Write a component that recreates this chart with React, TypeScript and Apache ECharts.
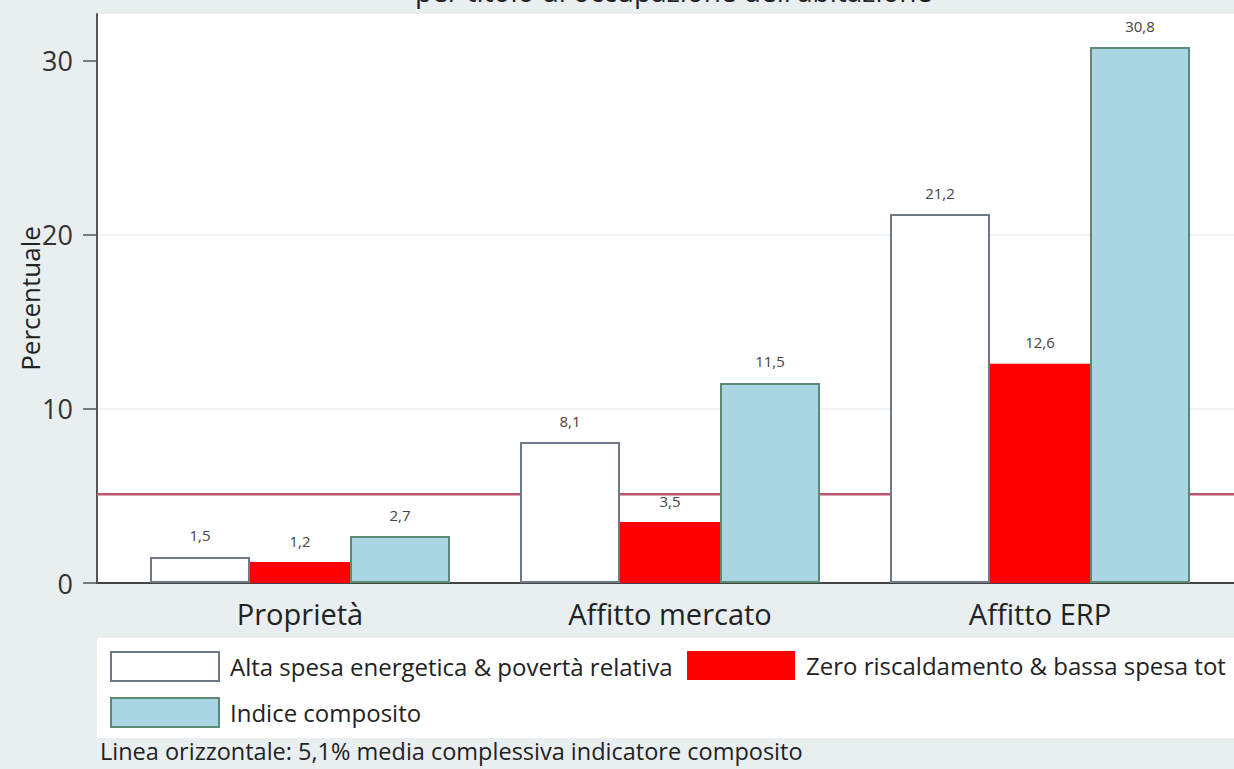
import React, { useEffect, useRef } from "react";
import * as echarts from "echarts";

const categories = ["Proprietà", "Affitto mercato", "Affitto ERP"];
const seriesNames = [
  "Alta spesa energetica & povertà relativa",
  "Zero riscaldamento & bassa spesa tot",
  "Indice composito",
];
const altaSpesa = [1.5, 8.1, 21.2];
const zeroRisc = [1.2, 3.5, 12.6];
const indiceComp = [2.7, 11.5, 30.8];
const mediaComposito = 5.1;
const yTicks = [0, 10, 20, 30];
const yMax = 32.7;

const FONT = "Open Sans";

export default function App() {
  const ref = useRef<HTMLDivElement>(null);
  useEffect(() => {
    if (!ref.current) return;
    const chart = echarts.init(ref.current, null, { renderer: "svg" });
    const fmt = (v: number) => v.toFixed(1).replace(".", ",");
    const label = {
      show: true,
      position: "top",
      distance: 14,
      fontFamily: FONT,
      fontSize: 15,
      color: "#444",
      formatter: (p: any) => fmt(p.value),
    };
    const styles = [
      { color: "#ffffff", borderColor: "#6e7a88", borderWidth: 2 },
      { color: "#ff0000", borderColor: "#ff0000", borderWidth: 0 },
      { color: "#aad6e4", borderColor: "#5c8a72", borderWidth: 2 },
    ];
    const datas = [altaSpesa, zeroRisc, indiceComp];
    const legendCommon = {
      icon: "rect",
      itemWidth: 108,
      itemHeight: 29,
      textStyle: {
        fontFamily: FONT,
        fontSize: 24,
        color: "#222",
        padding: [0, 0, 0, 6],
      },
      selectedMode: false,
      padding: 0,
    };
    chart.setOption({
      animation: false,
      backgroundColor: "#e9eef1",
      textStyle: { fontFamily: FONT },
      grid: [
        { left: 115, right: 9, top: 14, bottom: 186, containLabel: false },
        {
          left: 97,
          right: 0,
          top: 14,
          bottom: 186,
          show: true,
          backgroundColor: "#ffffff",
          borderWidth: 0,
        },
      ],
      xAxis: [
        {
          type: "category",
          gridIndex: 0,
          data: categories,
          axisLine: { show: false },
          axisTick: { show: false },
          axisLabel: {
            fontFamily: FONT,
            fontSize: 29,
            color: "#222",
            margin: 16,
          },
        },
        {
          type: "value",
          gridIndex: 1,
          min: 0,
          max: 1,
          axisLine: { show: true, lineStyle: { color: "#444", width: 2 } },
          axisTick: { show: false },
          axisLabel: { show: false },
          splitLine: { show: false },
        },
      ],
      yAxis: [
        { type: "value", gridIndex: 0, min: 0, max: yMax, show: false },
        {
          type: "value",
          gridIndex: 1,
          min: 0,
          max: yMax,
          interval: 10,
          name: "Percentuale",
          nameLocation: "middle",
          nameGap: 54,
          nameMoveOverlap: false,
          nameTextStyle: { fontFamily: FONT, fontSize: 26, color: "#222" },
          axisLine: { show: true, lineStyle: { color: "#555", width: 2 } },
          axisTick: {
            show: true,
            length: 14,
            lineStyle: { color: "#555", width: 1.5 },
            customValues: yTicks,
          },
          axisLabel: {
            fontFamily: FONT,
            fontSize: 27,
            color: "#333",
            margin: 24,
            customValues: yTicks,
          },
          splitLine: {
            show: true,
            showMaxLine: false,
            lineStyle: { color: "#edf1f3", width: 1.5 },
          },
        },
      ],
      legend: [
        { ...legendCommon, data: [seriesNames[0]], left: 110, top: 651 },
        { ...legendCommon, data: [seriesNames[1]], left: 687, top: 651 },
        { ...legendCommon, data: [seriesNames[2]], left: 110, top: 697 },
      ],
      graphic: [
        {
          type: "rect",
          z: -10,
          shape: { x: 97, y: 638, width: 1140, height: 100 },
          style: { fill: "#ffffff" },
        },
        {
          type: "text",
          x: 415,
          y: -23,
          style: {
            text: "per titolo di occupazione dell'abitazione",
            font: `28px ${FONT}`,
            fill: "#222",
          },
        },
        {
          type: "text",
          x: 100,
          y: 739,
          style: {
            text: "Linea orizzontale: 5,1% media complessiva indicatore composito",
            font: `23.5px ${FONT}`,
            fill: "#222",
          },
        },
      ],
      series: [
        ...datas.map((d, i) => ({
          type: "bar",
          name: seriesNames[i],
          xAxisIndex: 0,
          yAxisIndex: 0,
          data: d,
          barWidth: 100,
          barGap: "0%",
          itemStyle: styles[i],
          label,
          z: 3,
        })),
        {
          type: "line",
          name: "media",
          xAxisIndex: 1,
          yAxisIndex: 1,
          data: [
            [0, mediaComposito],
            [1, mediaComposito],
          ],
          symbol: "none",
          lineStyle: { color: "#b9546f", width: 2.5 },
          z: 1,
          silent: true,
        },
      ],
    });
    return () => chart.dispose();
  }, []);
  return (
    <div
      ref={ref}
      style={{ position: "fixed", left: 0, top: 0, width: 1234, height: 769 }}
    />
  );
}
